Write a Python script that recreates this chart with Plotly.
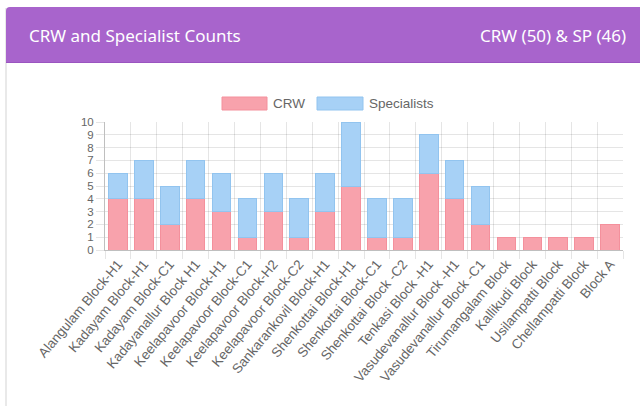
import plotly.graph_objects as go

categories = [
    "Alangulam Block-H1", "Kadayam Block-H1", "Kadayam Block-C1", "Kadayanallur Block H1",
    "Keelapavoor Block-H1", "Keelapavoor Block-C1", "Keelapavoor Block-H2", "Keelapavoor Block-C2",
    "Sankarankovil Block-H1", "Shenkottai Block-H1", "Shenkottai Block-C1", "Shenkottai Block -C2",
    "Tenkasi Block -H1", "Vasudevanallur Block -H1", "Vasudevanallur Block -C1", "Tirumangalam Block",
    "Kallikudi Block", "Usilampatti Block", "Chellampatti Block", "Block A",
]
crw = [4, 4, 2, 4, 3, 1, 3, 1, 3, 5, 1, 1, 6, 4, 2, 1, 1, 1, 1, 2]
specialists = [2, 3, 3, 3, 3, 3, 3, 3, 3, 5, 3, 3, 3, 3, 3, 0, 0, 0, 0, 0]
series_names = ["CRW", "Specialists"]
y_ticks = list(range(0, 11))
header_title = "CRW and Specialist Counts"
header_summary = f"CRW ({sum(crw)}) & SP ({sum(specialists)})"

W, H = 640, 406
L, R, T, B = 105, 17, 122, 156
PW, PH = W - L - R, H - T - B

def px(x):
    return (x - L) / PW

def py(y):
    return 1 - (y - T) / PH

crw_fill, crw_line = "#f8a2ac", "#f4909c"
sp_fill, sp_line = "#a7d1f6", "#92c4ef"

fig = go.Figure()
fig.add_trace(go.Bar(x=categories, y=crw, name=series_names[0],
                     marker=dict(color=crw_fill,
                                 line=dict(color=crw_line, width=[1 if v > 0 else 0 for v in crw])),
                     showlegend=False))
fig.add_trace(go.Bar(x=categories, y=specialists, name=series_names[1],
                     marker=dict(color=sp_fill,
                                 line=dict(color=sp_line, width=[1 if v > 0 else 0 for v in specialists])),
                     showlegend=False))

tick_font = dict(family="Liberation Sans, Arial, sans-serif", size=13.5, color="#666666")
ytick_font = dict(family="Liberation Sans, Arial, sans-serif", size=11.5, color="#666666")
grid = "rgba(0,0,0,0.1)"

fig.update_layout(
    width=W, height=H,
    margin=dict(l=L, r=R, t=T, b=B, autoexpand=False),
    paper_bgcolor="white", plot_bgcolor="white",
    barmode="stack", bargap=0.28,
    xaxis=dict(type="category", tickson="boundaries", showgrid=True, gridcolor=grid,
               ticks="outside", ticklen=8, tickcolor=grid, tickangle=-50,
               tickfont=tick_font, showline=True, linecolor="rgba(0,0,0,0.25)",
               mirror=False, zeroline=False),
    yaxis=dict(range=[0, 10], tickvals=y_ticks, showgrid=True, gridcolor=grid,
               ticks="outside", ticklen=8, tickcolor=grid, tickfont=ytick_font,
               showline=True, linecolor="rgba(0,0,0,0.25)", zeroline=False),
)

shapes = []
# card shadow / border
shapes.append(dict(type="rect", xref="paper", yref="paper",
                   x0=px(5), x1=px(7), y0=py(H + 5), y1=py(8),
                   fillcolor="#e9e9e9", line=dict(width=0), layer="below"))
# header band with rounded top-left corner
r = 4
path = (f"M {px(6)},{py(62)} L {px(6)},{py(7 + r)} "
        f"Q {px(6)},{py(7)} {px(6 + r)},{py(7)} L {px(W + 5)},{py(7)} "
        f"L {px(W + 5)},{py(62)} Z")
shapes.append(dict(type="path", xref="paper", yref="paper", path=path,
                   fillcolor="#a864cc", line=dict(width=0), layer="above"))
# header bottom line
shapes.append(dict(type="line", xref="paper", yref="paper",
                   x0=px(6), x1=px(W + 5), y0=py(62.5), y1=py(62.5),
                   line=dict(color="#9a55c0", width=1)))
# legend boxes
shapes.append(dict(type="rect", xref="paper", yref="paper",
                   x0=px(222), x1=px(267), y0=py(110), y1=py(97),
                   fillcolor=crw_fill, line=dict(color=crw_line, width=1)))
shapes.append(dict(type="rect", xref="paper", yref="paper",
                   x0=px(317), x1=px(363), y0=py(110), y1=py(97),
                   fillcolor=sp_fill, line=dict(color=sp_line, width=1)))

header_font = dict(family="Noto Sans, Open Sans, sans-serif", size=17, color="white")
annotations = [
    dict(text=header_title, xref="paper", yref="paper", x=px(27), y=py(35),
         xanchor="left", yanchor="middle", showarrow=False, font=header_font),
    dict(text=header_summary, xref="paper", yref="paper", x=px(628), y=py(35),
         xanchor="right", yanchor="middle", showarrow=False, font=header_font),
    dict(text=series_names[0], xref="paper", yref="paper", x=px(271), y=py(103.5),
         xanchor="left", yanchor="middle", showarrow=False, font=tick_font),
    dict(text=series_names[1], xref="paper", yref="paper", x=px(367), y=py(103.5),
         xanchor="left", yanchor="middle", showarrow=False, font=tick_font),
]
fig.update_layout(shapes=shapes, annotations=annotations)

fig.write_html("out.html", config={"displayModeBar": False},
               post_script="document.body.style.margin='0';")
